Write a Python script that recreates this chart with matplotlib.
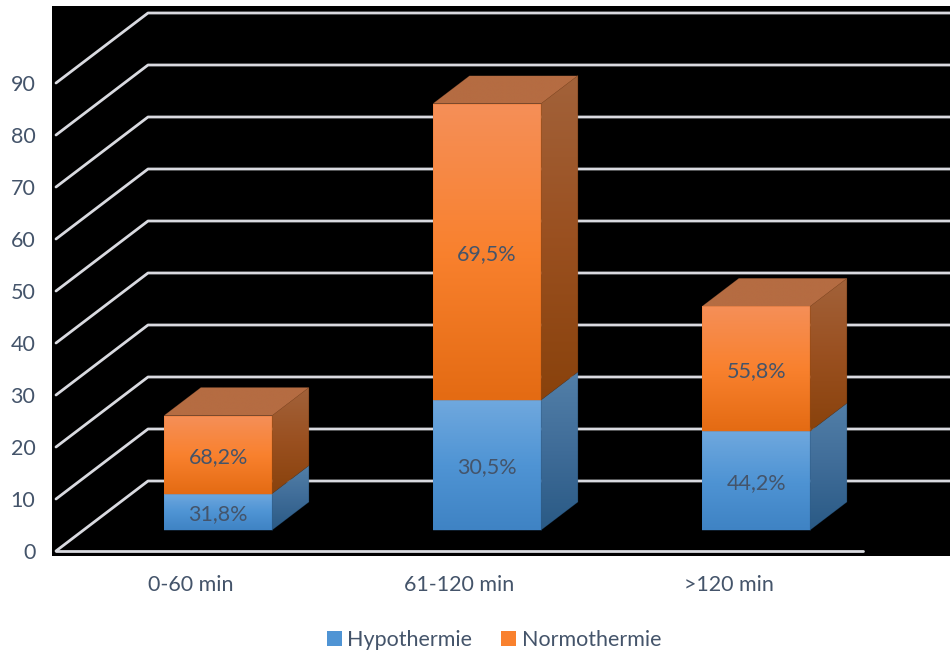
import matplotlib

matplotlib.use("Agg")
import matplotlib.pyplot as plt
import numpy as np
from matplotlib.colors import LinearSegmentedColormap
from matplotlib.patches import Patch, Polygon

categories = ["0-60 min", "61-120 min", ">120 min"]
hypothermie = [7, 25, 19]
normothermie = [15, 57, 24]
y_ticks = list(range(0, 100, 10))

TEXT = "#44546A"
GRID = "#D9DAE0"
FONT_SIZE = 15.5
W, H = 950, 653

# oblique projection: full floor depth in category / value units
DEPTH_X = 92 / 269
DEPTH_Y = 70 / 5.2
BAR_WIDTH = 108 / 269
BAR_NEAR = 0.30
BAR_FAR = 0.70

FACES = {
    "blue": {
        "front": ["#6FA8DE", "#4F94D4", "#3F83C4"],
        "side": ["#527FA8", "#3F6C98", "#2A5A85"],
        "top": ["#8FA9C4", "#8FA9C4"],
    },
    "orange": {
        "front": ["#F58F58", "#F9812E", "#E46B13"],
        "side": ["#A2623A", "#9A5020", "#89420C"],
        "top": ["#B56C42", "#B56C42"],
    },
}

plt.rcParams["font.family"] = ["Lato", "DejaVu Sans"]

fig = plt.figure(figsize=(W / 100, H / 100), dpi=100, facecolor="white")
left, right, top, bottom = 52, 950, 6, 556
ax = fig.add_axes([left / W, 1 - bottom / H, (right - left) / W, (bottom - top) / H])
ax.set_facecolor("black")


def project(x, y, depth):
    return x + depth * DEPTH_X, y + depth * DEPTH_Y


def fill_face(points, colors):
    # vertical gradient clipped to the face outline
    xs, ys = zip(*points)
    cmap = LinearSegmentedColormap.from_list("face", colors)
    gradient = np.linspace(0, 1, 128).reshape(-1, 1)
    im = ax.imshow(
        gradient,
        cmap=cmap,
        extent=(min(xs), max(xs), min(ys), max(ys)),
        origin="upper",
        aspect="auto",
        interpolation="bilinear",
        zorder=3,
    )
    outline = Polygon(points, closed=True, transform=ax.transData, facecolor="none", edgecolor="none")
    ax.add_patch(outline)
    im.set_clip_path(outline)
    ax.add_patch(
        Polygon(points, closed=True, facecolor="none", edgecolor=colors[-1], linewidth=0.5, alpha=0.3, zorder=4)
    )


def draw_block(center, y0, y1, faces):
    x0, x1 = center - BAR_WIDTH / 2, center + BAR_WIDTH / 2
    front = [project(x0, y0, BAR_NEAR), project(x1, y0, BAR_NEAR), project(x1, y1, BAR_NEAR), project(x0, y1, BAR_NEAR)]
    side = [project(x1, y0, BAR_NEAR), project(x1, y0, BAR_FAR), project(x1, y1, BAR_FAR), project(x1, y1, BAR_NEAR)]
    fill_face(front, faces["front"])
    fill_face(side, faces["side"])
    return front


# floor edges and back wall gridlines
x_floor = -0.5
x_end = (right - 56) / 269 - 0.5
for value in y_ticks:
    xa, ya = project(x_floor, value, 0)
    xb, yb = project(x_floor, value, 1)
    ax.plot([xa, xb, x_end + 1], [ya, yb, yb], color=GRID, lw=2.0, solid_capstyle="round", zorder=1)
ax.plot([x_floor, 2.5], [0, 0], color=GRID, lw=2.0, solid_capstyle="round", zorder=1)

for i, (h, n) in enumerate(zip(hypothermie, normothermie)):
    total = h + n
    draw_block(i, 0, h, FACES["blue"])
    draw_block(i, h, total, FACES["orange"])
    x0, x1 = i - BAR_WIDTH / 2, i + BAR_WIDTH / 2
    roof = [
        project(x0, total, BAR_NEAR),
        project(x1, total, BAR_NEAR),
        project(x1, total, BAR_FAR),
        project(x0, total, BAR_FAR),
    ]
    fill_face(roof, FACES["orange"]["top"])

    for y_mid, share in ((h / 2, h / total), (h + n / 2, n / total)):
        tx, ty = project(i, y_mid, BAR_NEAR)
        label = f"{share * 100:.1f}%".replace(".", ",")
        ax.text(tx, ty, label, ha="center", va="center_baseline", color=TEXT, fontsize=FONT_SIZE, zorder=5)

ax.set_xlim((left - 56) / 269 - 0.5, x_end)
ax.set_ylim((551 - bottom) / 5.2, (551 - top) / 5.2)

ax.set_xticks(range(len(categories)), categories)
ax.set_yticks(y_ticks)
ax.tick_params(length=0, labelsize=FONT_SIZE, labelcolor=TEXT)
ax.tick_params(axis="x", pad=14)
ax.tick_params(axis="y", pad=12)
for spine in ax.spines.values():
    spine.set_visible(False)

handles = [
    Patch(facecolor=FACES["blue"]["front"][1], label="Hypothermie"),
    Patch(facecolor=FACES["orange"]["front"][1], label="Normothermie"),
]
fig.legend(
    handles=handles,
    loc="center",
    bbox_to_anchor=(494 / W, 1 - 640 / H),
    ncol=2,
    frameon=False,
    fontsize=FONT_SIZE,
    labelcolor=TEXT,
    handlelength=0.7,
    handleheight=0.7,
    handletextpad=0.25,
    columnspacing=1.35,
)

fig.savefig("out.png", dpi=100)
